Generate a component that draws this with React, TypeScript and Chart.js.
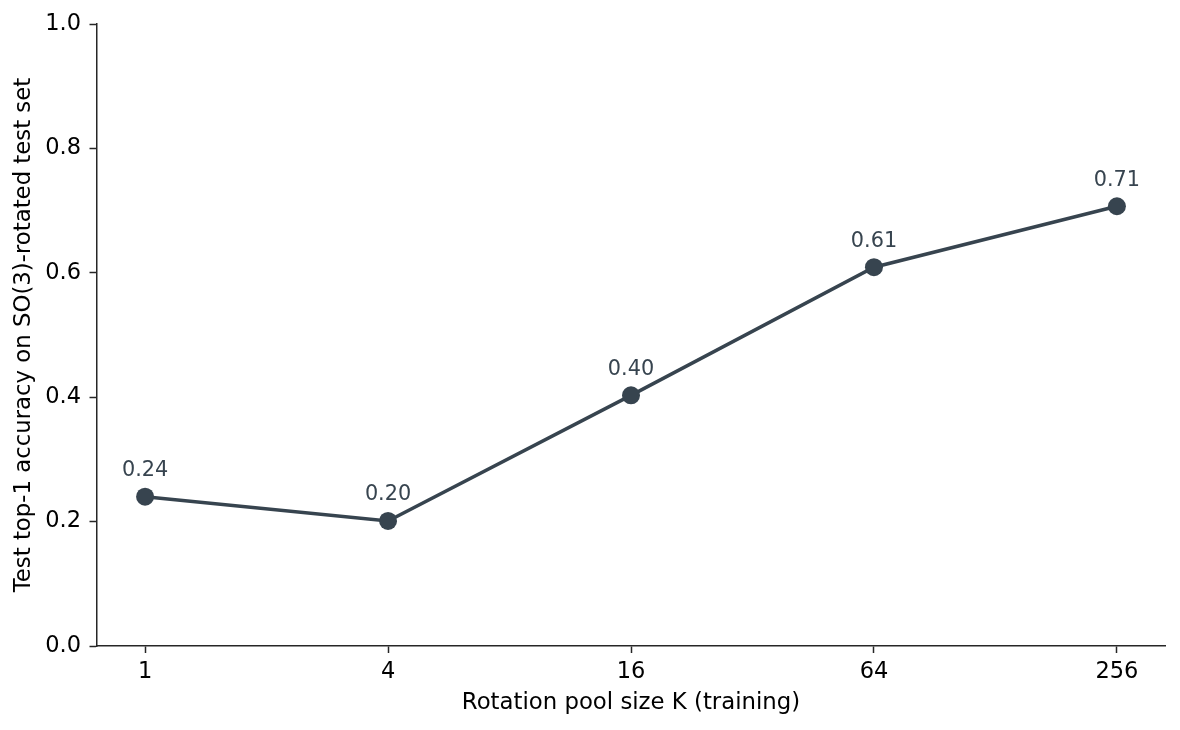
import React, { useEffect, useRef } from "react";
import { Chart, registerables } from "chart.js";

Chart.register(...registerables);

const categories = ["1", "4", "16", "64", "256"];
const accuracy = [0.24, 0.201, 0.403, 0.609, 0.707];
const pointLabels = ["0.24", "0.20", "0.40", "0.61", "0.71"];
const yTicks = [0, 0.2, 0.4, 0.6, 0.8, 1.0];

const LINE = "#37444f";
const AXIS = "#262626";
const FONT = "'DejaVu Sans', sans-serif";

const labelPlugin = {
  id: "pointLabels",
  afterDatasetsDraw(chart: any) {
    const ctx = chart.ctx;
    const meta = chart.getDatasetMeta(0);
    ctx.save();
    ctx.font = `20.8px ${FONT}`;
    ctx.fillStyle = LINE;
    ctx.textAlign = "center";
    ctx.textBaseline = "alphabetic";
    meta.data.forEach((el: any, i: number) => {
      ctx.fillText(pointLabels[i], el.x, el.y - 20.5);
    });
    ctx.restore();
  },
};

export default function App() {
  const ref = useRef<HTMLCanvasElement | null>(null);
  useEffect(() => {
    document.body.style.margin = "0";
    const chart = new Chart(ref.current as HTMLCanvasElement, {
      type: "line",
      data: {
        datasets: [
          {
            data: accuracy.map((v, i) => ({ x: i, y: v })),
            borderColor: LINE,
            backgroundColor: LINE,
            borderWidth: 3.5,
            pointRadius: 9,
            pointBackgroundColor: LINE,
            pointBorderWidth: 0,
            tension: 0,
            clip: false as any,
          },
        ],
      },
      options: {
        animation: false,
        responsive: false,
        devicePixelRatio: 1,
        layout: { padding: { top: 24, right: 14.5, left: 0, bottom: 0 } },
        plugins: { legend: { display: false }, tooltip: { enabled: false } },
        scales: {
          x: {
            type: "linear",
            min: -0.2,
            max: 4.2,
            afterBuildTicks: (scale: any) => {
              scale.ticks = categories.map((_, i) => ({ value: i }));
            },
            afterFit: (scale: any) => {
              scale.height = 84;
            },
            ticks: {
              callback: (v: any) => categories[v as number] ?? "",
              color: "#000",
              font: { family: FONT, size: 22.5 },
              padding: 6,
              maxRotation: 0,
              autoSkip: false,
            },
            grid: {
              display: true,
              drawOnChartArea: false,
              drawTicks: true,
              tickLength: 7,
              tickWidth: 1.5,
              tickColor: AXIS,
              color: AXIS,
            },
            border: { display: true, color: AXIS, width: 1.5 },
            title: {
              display: true,
              text: "Rotation pool size K (training)",
              color: "#000",
              font: { family: FONT, size: 22.8 },
              padding: { top: 13.3, bottom: 13.3 },
            },
          },
          y: {
            type: "linear",
            min: 0,
            max: 1,
            afterBuildTicks: (scale: any) => {
              scale.ticks = yTicks.map((v) => ({ value: v }));
            },
            afterFit: (scale: any) => {
              scale.width = 96.5;
            },
            ticks: {
              callback: (v: any) => Number(v).toFixed(1),
              color: "#000",
              font: { family: FONT, size: 22.5 },
              padding: 8.5,
            },
            grid: {
              display: true,
              drawOnChartArea: false,
              drawTicks: true,
              tickLength: 7,
              tickWidth: 1.5,
              tickColor: AXIS,
              color: AXIS,
            },
            border: { display: true, color: AXIS, width: 1.5 },
            title: {
              display: true,
              text: "Test top-1 accuracy on SO(3)-rotated test set",
              color: "#000",
              font: { family: FONT, size: 22.8 },
              padding: { top: 10.5, bottom: 0 },
            },
          },
        },
      },
      plugins: [labelPlugin],
    });
    return () => chart.destroy();
  }, []);
  return (
    <canvas
      ref={ref}
      width={1180}
      height={730}
      style={{ display: "block", width: 1180, height: 730 }}
    />
  );
}
